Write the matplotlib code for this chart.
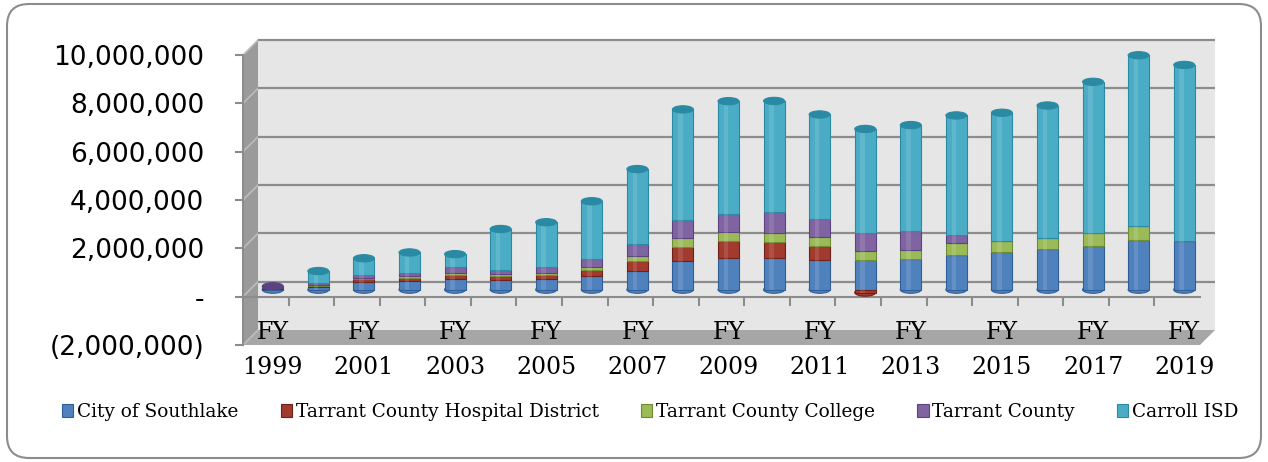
# Stacked cylinder chart - property tax by agency, FY1999 - FY2019

import numpy as np
import matplotlib
matplotlib.use('Agg')
import matplotlib.pyplot as plt
from matplotlib.patches import Ellipse, Polygon, Rectangle, FancyBboxPatch
from matplotlib.transforms import ScaledTranslation
from matplotlib.ticker import FuncFormatter

# data (millions of dollars)
years = list(range(1999, 2020))
city = [0.03, 0.10, 0.30, 0.35, 0.45, 0.40, 0.45, 0.56, 0.76, 1.20, 1.33,
        1.30, 1.22, 1.22, 1.27, 1.44, 1.54, 1.67, 1.81, 2.04, 2.00]
hospital = [0.02, 0.07, 0.13, 0.13, 0.17, 0.18, 0.14, 0.26, 0.44, 0.57, 0.68,
            0.68, 0.59, -0.12, 0, 0, 0, 0, 0, 0, 0]
college = [0.01, 0.04, 0.07, 0.07, 0.08, 0.07, 0.10, 0.10, 0.19, 0.35, 0.36,
           0.37, 0.37, 0.38, 0.38, 0.48, 0.48, 0.48, 0.54, 0.58, 0]
county = [0.08, 0.06, 0.10, 0.12, 0.22, 0.16, 0.23, 0.34, 0.50, 0.78, 0.76,
          0.86, 0.75, 0.75, 0.78, 0.34, 0, 0, 0, 0, 0]
carroll = [0, 0.50, 0.70, 0.87, 0.55, 1.70, 1.87, 2.40, 3.10, 4.56, 4.67,
           4.60, 4.32, 4.30, 4.38, 4.95, 5.30, 5.47, 6.25, 7.08, 7.30]

names = ['City of Southlake', 'Tarrant County Hospital District',
         'Tarrant County College', 'Tarrant County', 'Carroll ISD']
series = [city, hospital, college, county, carroll]
colors = ['#4f81bd', '#a23a2e', '#9bbb59', '#8064a2', '#4bacc6']
edges = ['#2f5f98', '#6e2119', '#6f8c33', '#5a4380', '#2b8aa3']

fig = plt.figure(figsize=(12.68, 4.62), dpi=100)
W, H = 1268, 462
# front plane of the 3d box, in pixels
left, right, top, bottom = 243, 1200, 55, 345
ax = fig.add_axes([left / W, 1 - bottom / H, (right - left) / W, (bottom - top) / H])
ax.set_xlim(-0.5, 20.5)
ax.set_ylim(-2e6, 10e6)
ax.set_facecolor('none')
for s in ax.spines.values():
    s.set_visible(False)

# depth offsets
back = ax.transData + ScaledTranslation(0.15, 0.15, fig.dpi_scale_trans)
mid = ax.transData + ScaledTranslation(0.07, 0.07, fig.dpi_scale_trans)
dx, dy = 15 / (right - left), 15 / (bottom - top)

# rounded outer border
fig.patches.append(FancyBboxPatch((0.07, 0.04), 12.54, 4.54,
                                  boxstyle='round,pad=0,rounding_size=0.22',
                                  transform=fig.dpi_scale_trans, fc='white',
                                  ec='#8c8c8c', lw=1.5, zorder=-10))

# walls
ax.add_patch(Polygon([(dx, dy), (1 + dx, dy), (1 + dx, 1 + dy), (dx, 1 + dy)],
                     transform=ax.transAxes, fc='#e6e6e6', ec='none', zorder=0, clip_on=False))
ax.add_patch(Polygon([(0, 0), (dx, dy), (dx, 1 + dy), (0, 1)],
                     transform=ax.transAxes, fc='#9a9a9a', ec='none', zorder=0.5, clip_on=False))
ax.add_patch(Polygon([(0, 0), (1, 0), (1 + dx, dy), (dx, dy)],
                     transform=ax.transAxes, fc='#a6a6a6', ec='none', zorder=0.6, clip_on=False))

yticks = np.arange(-2e6, 10.1e6, 2e6)
for v in yticks:
    if v > -2e6:
        ax.plot([-0.5, 20.5], [v, v], color='#8c8c8c', lw=1.6, transform=back,
                zorder=1, clip_on=False, solid_capstyle='butt')
    fy = (v + 2e6) / 12e6
    ax.plot([0, dx], [fy, fy + dy], color='#bdbdbd', lw=1.2, transform=ax.transAxes,
            zorder=0.7, clip_on=False)

# front axis line at zero with category ticks
ax.plot([-0.5, 20.5], [0, 0], color='#8c8c8c', lw=1.5, zorder=1.5, clip_on=False)
for b in np.arange(0.5, 20.5, 1):
    ax.plot([b, b], [0, -0.35e6], color='#8c8c8c', lw=1.5, zorder=1.5, clip_on=False)

# bars (stacked cylinders)
x = np.arange(len(years))
bw = 0.46
pos = np.zeros(len(years))
neg = np.zeros(len(years))
tops = [None] * len(years)
for vals, c, e in zip(series, colors, edges):
    vals = np.array(vals) * 1e6
    base = np.where(vals >= 0, pos, neg)
    ax.bar(x, vals, bw, bottom=base, color=c, edgecolor=e, lw=0.8,
           transform=mid, zorder=3, clip_on=False)
    # soft highlight for the cylinder look
    ax.bar(x - bw * 0.12, vals, bw * 0.22, bottom=base, color='white', alpha=0.12,
           lw=0, transform=mid, zorder=3.1, clip_on=False)
    for i, v in enumerate(vals):
        if v > 0:
            tops[i] = (c, e)
    pos = pos + np.where(vals >= 0, vals, 0)
    neg = neg + np.where(vals < 0, vals, 0)

eh = 0.3e6
for i in range(len(years)):
    bot_c = colors[1] if neg[i] < 0 else colors[0]
    bot_e = edges[1] if neg[i] < 0 else edges[0]
    ax.add_patch(Ellipse((x[i], neg[i]), bw, eh, fc=bot_c, ec=bot_e, lw=0.8,
                         transform=mid, zorder=2.9, clip_on=False))
    c, e = tops[i]
    ax.add_patch(Ellipse((x[i], pos[i]), bw, eh, fc=e, ec=e, lw=0.8,
                         transform=mid, zorder=3.5, clip_on=False))

# y axis
def fmt(v, p):
    if v == 0:
        return '-'
    if v < 0:
        return '({:,.0f})'.format(-v)
    return '{:,.0f}'.format(v)

ax.set_yticks(yticks)
ax.yaxis.set_major_formatter(FuncFormatter(fmt))
ax.tick_params(axis='y', length=6, width=1.5, color='#8c8c8c', pad=22, labelsize=19)
ax.plot([-0.5, -0.5], [-2e6, 10e6], color='#8c8c8c', lw=1.5, zorder=1.5, clip_on=False)
ax.set_xticks([])

# category labels
for i in range(0, len(years), 2):
    ax.text(x[i], -1.78e6, 'FY', transform=mid, ha='center', va='center',
            fontsize=17, family='DejaVu Serif', zorder=5)
    ax.text(x[i], -3.2e6, str(years[i]), transform=mid, ha='center', va='center',
            fontsize=17, family='DejaVu Serif', zorder=5)

handles = [Rectangle((0, 0), 1, 1, fc=c, ec=e, lw=0.8) for c, e in zip(colors, edges)]
fig.legend(handles, names, loc='center', bbox_to_anchor=(0.513, 0.108), ncol=5,
           frameon=False, handlelength=0.6, handleheight=0.7, handletextpad=0.2,
           columnspacing=2.3, prop={'family': 'DejaVu Serif', 'size': 13.3})

plt.savefig('out.png', dpi=100)
